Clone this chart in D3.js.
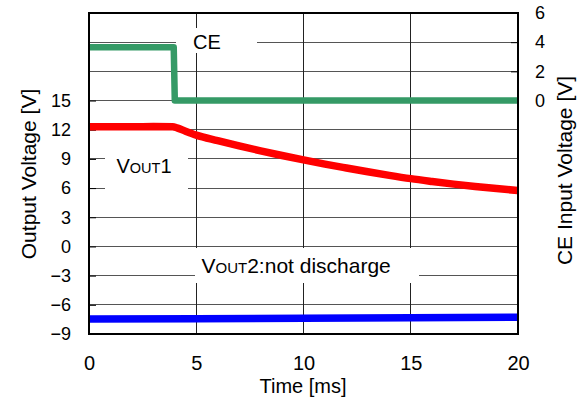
<!DOCTYPE html>
<html><head><meta charset="utf-8">
<script src="https://cdn.jsdelivr.net/npm/d3@7"></script>
<style>body{margin:0;background:#fff}svg{display:block}</style>
</head><body>
<svg id="c" width="586" height="401"></svg>
<script>
const xTicks = [0, 5, 10, 15, 20];
const yLeftTicks = [-9, -6, -3, 0, 3, 6, 9, 12, 15];
const yLeftGrid = [-9, -6, -3, 0, 3, 6, 9, 12, 15, 18, 21, 24];
const yRightTicks = [0, 2, 4, 6];
const ceTime = [0, 3.95, 4.0, 20];
const ceVolt = [3.65, 3.65, 0, 0];
const vout1Time = [0, 1, 2, 3, 3.9, 4.1, 4.5, 5, 6, 7, 8, 9, 10, 11, 12, 13, 14, 15, 16, 17, 18, 19, 20];
const vout1Volt = [12.3, 12.3, 12.3, 12.32, 12.3, 12.2, 11.85, 11.45, 10.88, 10.34, 9.83, 9.35, 8.9, 8.47, 8.07, 7.68, 7.31, 6.97, 6.68, 6.41, 6.17, 5.95, 5.75];
const vout2Time = [0, 5, 10, 15, 20];
const vout2Volt = [-7.46, -7.42, -7.38, -7.33, -7.28];

const svg = d3.select("#c");
const L = 89, R = 518, T = 13, B = 334;
const x = d3.scaleLinear().domain([0, 20]).range([L, R]);
const yL = d3.scaleLinear().domain([-9, 24]).range([B, T]);
const yR = d3.scaleLinear().domain([-16, 6]).range([B, T]);
const font = "'Liberation Sans', Arial, sans-serif";

// gridlines
svg.append("g").selectAll("line").data(yLeftGrid).join("line")
  .attr("x1", L).attr("x2", R).attr("y1", d => yL(d)).attr("y2", d => yL(d))
  .attr("stroke", "#555").attr("stroke-width", 1).attr("shape-rendering", "crispEdges");
svg.append("g").selectAll("line").data(xTicks.slice(1, -1)).join("line")
  .attr("x1", d => x(d)).attr("x2", d => x(d)).attr("y1", T).attr("y2", B)
  .attr("stroke", "#222").attr("stroke-width", 1).attr("shape-rendering", "crispEdges");

// axes (inward ticks)
const axL = d3.axisLeft(yL).tickValues(yLeftTicks).tickSize(-7).tickPadding(18);
const axR = d3.axisRight(yR).tickValues(yRightTicks).tickSize(-7).tickPadding(17);
const axB = d3.axisBottom(x).tickValues(xTicks).tickSize(0).tickPadding(22);
function style(g){
  g.select(".domain").remove();
  g.selectAll("line").attr("stroke", "#000");
  g.selectAll("text").attr("font-family", font).attr("fill", "#000");
}
svg.append("g").attr("transform", `translate(${L},0)`).call(axL).call(style)
  .selectAll("text").attr("font-size", 18);
svg.append("g").attr("transform", `translate(${R},0)`).call(axR).call(style)
  .selectAll("text").attr("font-size", 18);
svg.append("g").attr("transform", `translate(0,${B})`).call(axB).call(style)
  .selectAll("text").attr("font-size", 20);

// label boxes
const boxes = [[176, 28, 81, 25], [105, 148, 83, 46], [195, 248, 224, 35]];
svg.append("g").selectAll("rect").data(boxes).join("rect")
  .attr("x", d => d[0]).attr("y", d => d[1]).attr("width", d => d[2]).attr("height", d => d[3])
  .attr("fill", "#fff");

// labels
svg.append("text").attr("x", 193).attr("y", 48.5).attr("font-family", font).attr("font-size", 20).text("CE");
function vlabel(xp, yp, suffix, fs, sfs){
  const t = svg.append("text").attr("x", xp).attr("y", yp).attr("font-family", font).attr("font-size", fs);
  t.append("tspan").text("V");
  t.append("tspan").attr("font-size", sfs).text("OUT");
  t.append("tspan").text(suffix);
}
vlabel(116.5, 173, "1", 20, 14.5);
vlabel(201.5, 273, "2:not discharge", 21, 15);

// data lines
const lineL = d3.line().x(d => x(d[0])).y(d => yL(d[1]));
const lineR = d3.line().x(d => x(d[0])).y(d => yR(d[1]));
svg.append("path").datum(vout2Time.map((t, i) => [t, vout2Volt[i]])).attr("d", lineL)
  .attr("fill", "none").attr("stroke", "#0000ff").attr("stroke-width", 7.5);
svg.append("path").datum(vout1Time.map((t, i) => [t, vout1Volt[i]])).attr("d", lineL.curve(d3.curveMonotoneX))
  .attr("fill", "none").attr("stroke", "#ff0000").attr("stroke-width", 7.5).attr("stroke-linejoin", "round");
svg.append("path").datum(ceTime.map((t, i) => [t, ceVolt[i]])).attr("d", lineR)
  .attr("fill", "none").attr("stroke", "#359a66").attr("stroke-width", 6.5).attr("stroke-linejoin", "round");

// frame
svg.append("rect").attr("x", L).attr("y", T).attr("width", R - L).attr("height", B - T)
  .attr("fill", "none").attr("stroke", "#000").attr("stroke-width", 2);

// titles
svg.append("text").attr("transform", "translate(36,174) rotate(-90)").attr("text-anchor", "middle")
  .attr("font-family", font).attr("font-size", 21).text("Output Voltage [V]");
svg.append("text").attr("transform", "translate(572,170.5) rotate(-90)").attr("text-anchor", "middle")
  .attr("font-family", font).attr("font-size", 21).text("CE Input Voltage [V]");
svg.append("text").attr("x", 303).attr("y", 393).attr("text-anchor", "middle")
  .attr("font-family", font).attr("font-size", 20).text("Time [ms]");
</script>
</body></html>
